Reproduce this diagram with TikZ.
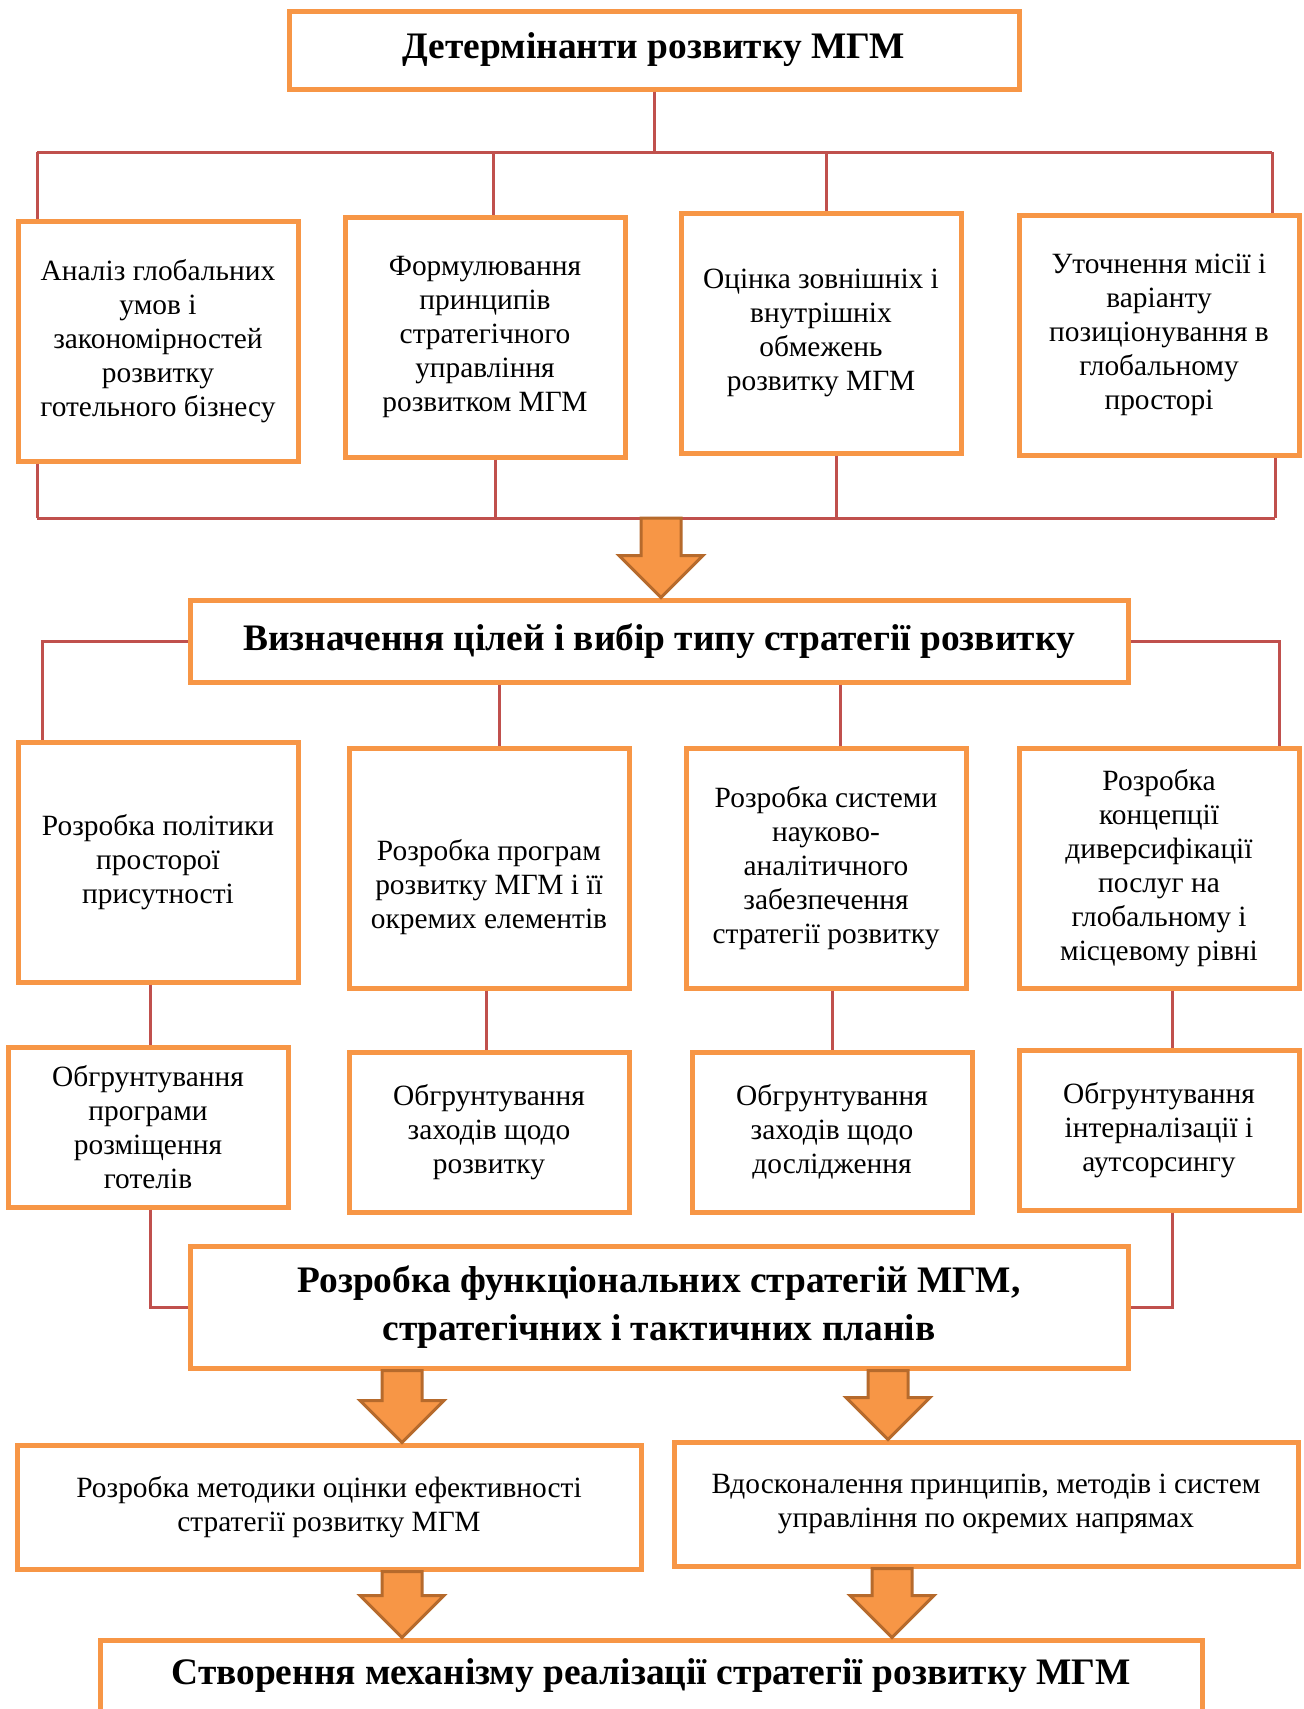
\documentclass[tikz,border=0pt]{standalone}
\usepackage{fontspec}
\setmainfont{Liberation Serif}
\usetikzlibrary{calc}

\definecolor{boxorange}{HTML}{F79646}
\definecolor{linkred}{HTML}{C0504D}
\definecolor{arrowedge}{HTML}{B66A2C}

% block arrow: #1 = top of the shaft, #2 = tip
\newcommand{\blockarrow}[2]{%
    \draw[bigarrow] ($#1+(-20,0)$) -- ($#2+(-20,-42)$) -- ($#2+(-42,-42)$) -- #2
        -- ($#2+(42,-42)$) -- ($#2+(20,-42)$) -- ($#1+(20,0)$) -- cycle;}

\begin{document}
\begin{tikzpicture}
    [
    x=0.5pt,
    y=-0.5pt,
    box/.style={
        rectangle,
        draw=boxorange,
        line width=2.5pt,
        fill=white,
        align=center,
        inner sep=2pt,
        font=\fontsize{14.7}{17}\selectfont
    },
    cell/.style={box, minimum width=140pt, minimum height=120pt},
    small/.style={box, minimum width=140pt, minimum height=80pt},
    wide/.style={box, minimum width=312pt, minimum height=62pt},
    head/.style={box, font=\fontsize{18.7}{24}\selectfont\bfseries},
    link/.style={draw=linkred, line width=1.5pt},
    bigarrow/.style={draw=arrowedge, fill=boxorange, line width=1.5pt, line join=miter}
    ]

    \useasboundingbox (0,0) rectangle (1304,1709);

% Determinants
    \node[head, minimum width=365pt, minimum height=39pt] (top) at (654,50) {Детермінанти розвитку МГМ};

    \node[cell] (a1) at (158,341) {Аналіз глобальних\\умов і\\закономірностей\\розвитку\\готельного бізнесу};
    \node[cell] (a2) at (485,337) {Формулювання\\принципів\\стратегічного\\управління\\розвитком МГМ};
    \node[cell] (a3) at (821,333) {Оцінка зовнішніх і\\внутрішніх\\обмежень\\розвитку МГМ};
    \node[cell] (a4) at (1159,335) {Уточнення місії і\\варіанту\\позиціонування в\\глобальному\\просторі};

    \coordinate (j1) at (37,152);
    \coordinate (j2) at (493,152);
    \coordinate (j3) at (826,152);
    \coordinate (j4) at (1272,152);
    \draw[link] (top.south) -- (top.south |- j1);
    \draw[link] (j1) -- (j4);
    \foreach \n in {1,...,4}
        \draw[link] (j\n) -- (j\n |- a\n.north);

    \coordinate (k1) at (37,518);
    \coordinate (k2) at (495,518);
    \coordinate (k3) at (836,518);
    \coordinate (k4) at (1275,518);
    \foreach \n in {1,...,4}
        \draw[link] (k\n |- a\n.south) -- (k\n);
    \draw[link] (k1) -- (k4);

% Goals and strategy type
    \node[head, minimum width=469pt, minimum height=41pt] (goals) at (659,641) {Визначення цілей і вибір типу стратегії розвитку};

    \coordinate (r1) at (661,518);
    \blockarrow{(r1)}{(r1 |- goals.north)}

    \node[cell] (b1) at (158,862) {Розробка політики\\просторої\\присутності};
    \node[cell] (b2) at (489,868) {\rule{0pt}{30pt}Розробка програм\\розвитку МГМ і її\\окремих елементів};
    \node[cell] (b3) at (826,868) {Розробка системи\\науково-\\аналітичного\\забезпечення\\стратегії розвитку};
    \node[cell] (b4) at (1159,868) {Розробка\\концепції\\диверсифікації\\послуг на\\глобальному і\\місцевому рівні};

    \coordinate (l1) at (42,0);
    \coordinate (l2) at (499,0);
    \coordinate (l3) at (840,0);
    \coordinate (l4) at (1279,0);
    \draw[link] (goals.west) -| (l1 |- b1.north);
    \draw[link] (goals.east) -| (l4 |- b4.north);
    \draw[link] (l2 |- goals.south) -- (l2 |- b2.north);
    \draw[link] (l3 |- goals.south) -- (l3 |- b3.north);

% Substantiation
    \node[small] (c1) at (148,1127) {Обгрунтування\\програми\\розміщення\\готелів};
    \node[small] (c2) at (489,1132) {Обгрунтування\\заходів щодо\\розвитку};
    \node[small] (c3) at (832,1132) {Обгрунтування\\заходів щодо\\дослідження};
    \node[small] (c4) at (1159,1130) {Обгрунтування\\інтерналізації і\\аутсорсингу};

    \coordinate (m1) at (150,0);
    \coordinate (m2) at (486,0);
    \coordinate (m3) at (832,0);
    \coordinate (m4) at (1172,0);
    \foreach \n in {1,...,4}
        \draw[link] (m\n |- b\n.south) -- (m\n |- c\n.north);

% Functional strategies
    \node[head, minimum width=469pt, minimum height=61pt] (func) at (659,1307) {Розробка функціональних стратегій МГМ,\\стратегічних і тактичних планів};

    \draw[link] (m1 |- c1.south) |- (func.west);
    \draw[link] (m4 |- c4.south) |- (func.east);

    \node[wide] (d1) at (329,1507) {Розробка методики оцінки ефективності\\стратегії розвитку МГМ};
    \node[wide] (d2) at (986,1504) {Вдосконалення принципів, методів і систем\\управління по окремих напрямах};

    \coordinate (r2) at (402,0);
    \coordinate (r3) at (888,0);
    \blockarrow{(r2 |- func.south)}{(r2 |- d1.north)}
    \blockarrow{(r3 |- func.south)}{(r3 |- d2.north)}

% Mechanism
    \node[head, minimum width=551pt, minimum height=36pt] (mech) at (651,1676) {Створення механізму реалізації стратегії розвитку МГМ};

    \coordinate (r4) at (402,0);
    \coordinate (r5) at (892,0);
    \blockarrow{(r4 |- d1.south)}{(r4 |- mech.north)}
    \blockarrow{(r5 |- d2.south)}{(r5 |- mech.north)}

\end{tikzpicture}
\end{document}
